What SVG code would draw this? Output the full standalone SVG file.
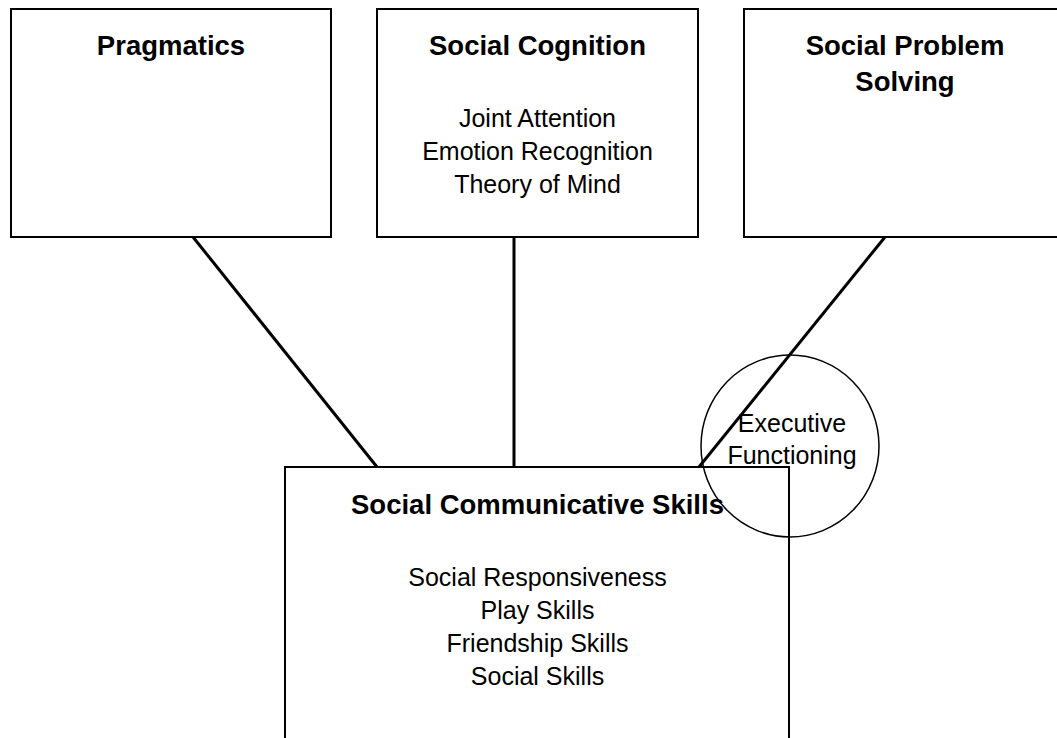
<svg xmlns="http://www.w3.org/2000/svg" width="1057" height="738" viewBox="0 0 1057 738">
<style>
.box{fill:#fff;stroke:#000;stroke-width:2}
.circ{fill:none;stroke:#000;stroke-width:1.5}
.conn{stroke:#000;stroke-width:3;fill:none}
.h{font-family:"Liberation Sans",Arial,sans-serif;font-weight:bold;font-size:27.5px;text-anchor:middle;fill:#000}
.t{font-family:"Liberation Sans",Arial,sans-serif;font-size:25px;text-anchor:middle;fill:#000}
</style>
<rect width="1057" height="738" fill="#fff"/>
<g id="pragmatics">
<rect class="box" x="11" y="9" width="320" height="228"/>
<text class="h" x="171" y="55">Pragmatics</text>
</g>
<g id="social-cognition">
<rect class="box" x="377" y="9" width="321" height="228"/>
<text class="h" x="537.5" y="55">Social Cognition</text>
<text class="t" x="537.5" y="127">Joint Attention</text>
<text class="t" x="537.5" y="160">Emotion Recognition</text>
<text class="t" x="537.5" y="193">Theory of Mind</text>
</g>
<g id="social-problem-solving">
<rect class="box" x="744" y="9" width="330" height="228"/>
<text class="h" x="905" y="55">Social Problem</text>
<text class="h" x="905" y="91">Solving</text>
</g>
<g id="social-communicative-skills">
<rect class="box" x="285" y="467" width="504" height="300"/>
<text class="h" x="537.5" y="514">Social Communicative Skills</text>
<text class="t" x="537.5" y="586">Social Responsiveness</text>
<text class="t" x="537.5" y="619">Play Skills</text>
<text class="t" x="537.5" y="652">Friendship Skills</text>
<text class="t" x="537.5" y="685">Social Skills</text>
</g>
<g id="connectors">
<line class="conn" x1="193" y1="237" x2="377" y2="467"/>
<line class="conn" x1="514" y1="237" x2="514" y2="467"/>
<line class="conn" x1="885" y1="237" x2="699" y2="467"/>
</g>
<g id="executive-functioning">
<ellipse class="circ" cx="790" cy="446" rx="89" ry="91"/>
<text class="t" x="792" y="432">Executive</text>
<text class="t" x="792" y="464">Functioning</text>
</g>
</svg>
